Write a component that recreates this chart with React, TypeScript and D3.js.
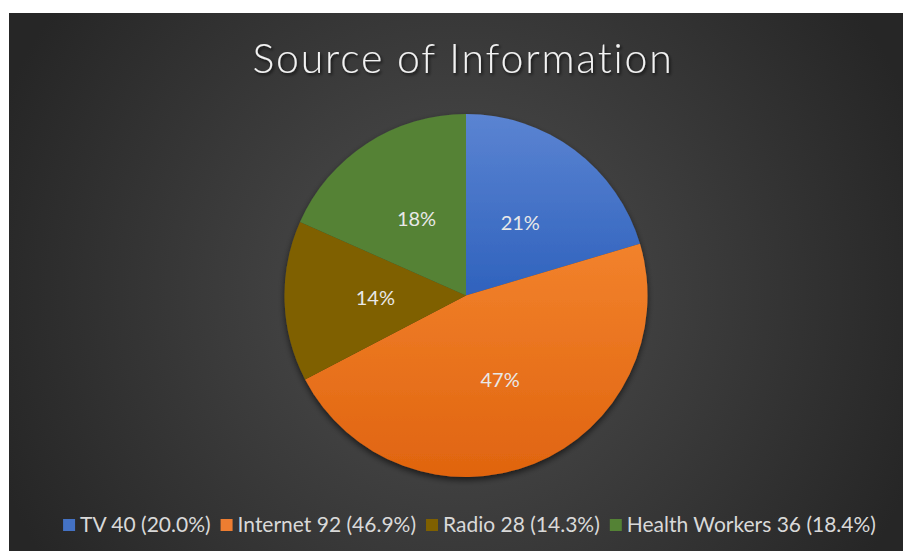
import React, { useEffect, useRef } from "react";
import * as d3 from "d3";

const categories = ["TV", "Internet", "Radio", "Health Workers"];
const values = [40, 92, 28, 36];
const sliceLabels = ["21%", "47%", "14%", "18%"];
const legendPercents = ["20.0%", "46.9%", "14.3%", "18.4%"];
const title = "Source of Information";

const colorsTop = ["#5b84d2", "#f2822c", "#7f6000", "#548235"];
const colorsBottom = ["#2f62bd", "#e0640f", "#7f6000", "#548235"];
const legendColors = ["#4472c4", "#ed7d31", "#7f6000", "#548235"];

const W = 903;
const H = 551;
const FONT = "Lato, 'Open Sans', sans-serif";

export default function App() {
  const ref = useRef<SVGSVGElement | null>(null);

  useEffect(() => {
    const svg = d3.select(ref.current);
    svg.selectAll("*").remove();

    const bx = 9, by = 13, bw = W - 9, bh = H - 13;
    const defs = svg.append("defs");

    const bg = defs.append("radialGradient").attr("id", "bg")
      .attr("gradientUnits", "userSpaceOnUse")
      .attr("cx", bx + bw / 2).attr("cy", by + bh * 0.52)
      .attr("r", bw * 0.55);
    bg.append("stop").attr("offset", "0").attr("stop-color", "#4f4f4f");
    bg.append("stop").attr("offset", "1").attr("stop-color", "#262626");

    categories.forEach((_, i) => {
      const g = defs.append("linearGradient").attr("id", `sg${i}`)
        .attr("x1", 0).attr("y1", 0).attr("x2", 0).attr("y2", 1);
      g.append("stop").attr("offset", "0").attr("stop-color", colorsTop[i]);
      g.append("stop").attr("offset", "1").attr("stop-color", colorsBottom[i]);
    });

    const sh = defs.append("filter").attr("id", "pieShadow")
      .attr("x", "-20%").attr("y", "-20%").attr("width", "140%").attr("height", "140%");
    sh.append("feDropShadow").attr("dx", 0).attr("dy", 3).attr("stdDeviation", 3)
      .attr("flood-color", "#000").attr("flood-opacity", 0.6);

    const tsh = defs.append("filter").attr("id", "textShadow")
      .attr("x", "-10%").attr("y", "-30%").attr("width", "120%").attr("height", "160%");
    tsh.append("feDropShadow").attr("dx", 1.5).attr("dy", 2).attr("stdDeviation", 1.5)
      .attr("flood-color", "#000").attr("flood-opacity", 0.7);

    svg.append("rect").attr("x", bx).attr("y", by).attr("width", bw).attr("height", bh)
      .attr("fill", "url(#bg)");

    // Title
    svg.append("text")
      .attr("x", 463).attr("y", 73)
      .attr("text-anchor", "middle")
      .attr("font-family", FONT)
      .attr("font-weight", 300)
      .attr("font-size", 41)
      .attr("letter-spacing", 1.8)
      .attr("fill", "#f2f2f2")
      .attr("filter", "url(#textShadow)")
      .text(title);

    // Pie
    const cx = 466, cy = 295.5, r = 181.5;
    const pie = d3.pie<number>().sort(null).value((d) => d);
    const arcs = pie(values);
    const arc = d3.arc<d3.PieArcDatum<number>>().innerRadius(0).outerRadius(r);
    const labelArc = d3.arc<d3.PieArcDatum<number>>().innerRadius(r * 0.5).outerRadius(r * 0.5);

    const pg = svg.append("g").attr("transform", `translate(${cx},${cy})`);
    pg.append("g").attr("filter", "url(#pieShadow)")
      .selectAll("path").data(arcs).join("path")
      .attr("d", arc)
      .attr("fill", (_, i) => `url(#sg${i})`);

    pg.selectAll("text.lbl").data(arcs).join("text")
      .attr("class", "lbl")
      .attr("transform", (d) => {
        const [x, y] = labelArc.centroid(d);
        return `translate(${x},${y})`;
      })
      .attr("text-anchor", "middle")
      .attr("dy", "0.35em")
      .attr("font-family", FONT)
      .attr("font-size", 20)
      .attr("fill", "#e8e8e8")
      .text((_, i) => sliceLabels[i]);

    // Legend
    const lg = svg.append("g");
    const targetWidth = 813;
    const sq = 12;
    const build = (fontSize: number) => {
      lg.selectAll("*").remove();
      const items = categories.map((c, i) => {
        const g = lg.append("g");
        g.append("rect").attr("width", sq).attr("height", sq).attr("y", -sq - 1)
          .attr("fill", legendColors[i]);
        const t = g.append("text").attr("x", sq + 5).attr("y", 0)
          .attr("font-family", FONT).attr("font-size", fontSize)
          .attr("fill", "#d9d9d9")
          .text(`${c} ${values[i]} (${legendPercents[i]})`);
        const w = (t.node() as SVGTextElement).getComputedTextLength();
        return { g, w: sq + 5 + w };
      });
      const gap = 10;
      const total = items.reduce((s, it) => s + it.w, 0) + gap * (items.length - 1);
      return { items, total, gap };
    };
    let res = build(18.5);
    const textW = res.total - (sq + 5) * 4 - res.gap * 3;
    const targetText = targetWidth - (sq + 5) * 4 - res.gap * 3;
    res = build(18.5 * targetText / textW);
    let x = 469.5 - res.total / 2;
    res.items.forEach((it) => {
      it.g.attr("transform", `translate(${x},532)`);
      x += it.w + res.gap;
    });
  }, []);

  return (
    <svg ref={ref} width={W} height={H} style={{ display: "block", position: "absolute", left: 0, top: 0 }} />
  );
}
